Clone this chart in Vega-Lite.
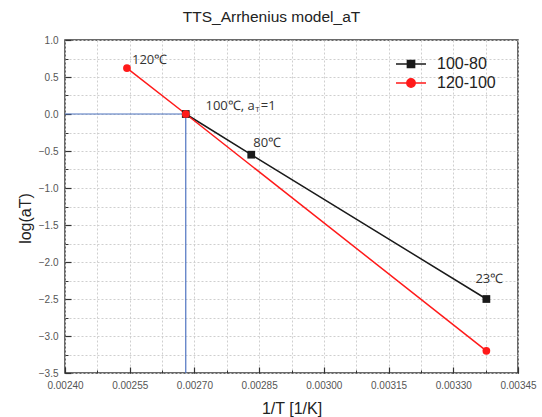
{
  "$schema": "https://vega.github.io/schema/vega-lite/v6.json",
  "width": 453,
  "height": 333,
  "autosize": "none",
  "padding": {"left": 65, "top": 40, "right": 24, "bottom": 44},
  "background": "white",
  "title": {"text": "TTS_Arrhenius model_aT", "font": "Liberation Sans", "fontSize": 15.5, "fontWeight": "normal", "color": "#222222", "anchor": "middle", "dx": -20, "offset": -2, "baseline": "alphabetic"},
  "config": {
    "view": {"stroke": "#3a3a3a", "strokeWidth": 1.5}
  },
  "resolve": {"axis": {"x": "independent", "y": "independent"}},
  "datasets": {
    "series": [
      {"series": "100-80", "invT": 0.0026799, "logaT": 0},
      {"series": "100-80", "invT": 0.0028317, "logaT": -0.55},
      {"series": "100-80", "invT": 0.0033767, "logaT": -2.5},
      {"series": "120-100", "invT": 0.0025436, "logaT": 0.62},
      {"series": "120-100", "invT": 0.0026799, "logaT": 0},
      {"series": "120-100", "invT": 0.0033767, "logaT": -3.2}
    ],
    "guides": [
      {"x": 0.0024, "x2": 0.0026799, "y": 0, "y2": 0},
      {"x": 0.0026799, "x2": 0.0026799, "y": -3.5, "y2": 0}
    ],
    "labels": [
      {"label": "120℃", "invT": 0.0025436, "logaT": 0.62},
      {"label": "100℃, a", "invT": 0.0026799, "logaT": 0},
      {"label": "T", "invT": 0.0026799, "logaT": 0},
      {"label": "=1", "invT": 0.0026799, "logaT": 0},
      {"label": "80℃", "invT": 0.0028317, "logaT": -0.55},
      {"label": "23℃", "invT": 0.0033767, "logaT": -2.5}
    ]
  },
  "layer": [
    {
      "data": {"name": "guides"},
      "mark": {"type": "rule", "color": "#4f74c0", "strokeWidth": 1.2},
      "encoding": {
        "x": {"field": "x", "type": "quantitative",
          "scale": {"domain": [0.0024, 0.00345], "nice": false, "zero": false},
          "axis": {"orient": "bottom", "values": [0.0024, 0.00255, 0.0027, 0.00285, 0.003, 0.00315, 0.0033, 0.00345], "format": ".5f", "grid": false, "domain": false, "ticks": true, "tickSize": -6, "tickColor": "#333333", "tickWidth": 1.2, "labelPadding": 13, "labelFont": "Liberation Sans", "labelFontSize": 10, "labelColor": "#555555", "labelFlush": false, "labelOverlap": false, "title": "1/T [1/K]", "titleFont": "Liberation Sans", "titleFontSize": 16, "titleFontWeight": "normal", "titleColor": "#222222", "titlePadding": 10}},
        "x2": {"field": "x2"},
        "y": {"field": "y", "type": "quantitative",
          "scale": {"domain": [-3.5, 1.0], "nice": false, "zero": false},
          "axis": {"orient": "left", "values": [-3.5, -3, -2.5, -2, -1.5, -1, -0.5, 0, 0.5, 1], "format": ".1f", "grid": false, "domain": false, "ticks": true, "tickSize": -6, "tickColor": "#333333", "tickWidth": 1.2, "labelPadding": 13, "labelFont": "Liberation Sans", "labelFontSize": 10, "labelColor": "#555555", "labelFlush": false, "labelOverlap": false, "title": "log(aT)", "titleFont": "Liberation Sans", "titleFontSize": 16, "titleFontWeight": "normal", "titleColor": "#222222", "titlePadding": 5, "titleY": 178}},
        "y2": {"field": "y2"}
      }
    },
    {
      "data": {"name": "series"},
      "mark": {"type": "line", "strokeWidth": 1.5},
      "encoding": {
        "x": {"field": "invT", "type": "quantitative",
          "axis": {"orient": "bottom", "values": [0.0024, 0.002475, 0.00255, 0.002625, 0.0027, 0.002775, 0.00285, 0.002925, 0.003, 0.003075, 0.00315, 0.003225, 0.0033, 0.003375, 0.00345], "grid": true, "gridColor": "#cfcfcf", "gridDash": [2, 2], "gridWidth": 1, "domain": false, "labels": false, "ticks": true, "tickSize": -3, "tickColor": "#333333", "tickWidth": 1, "title": null}},
        "y": {"field": "logaT", "type": "quantitative",
          "axis": {"orient": "left", "values": [-3.5, -3.25, -3, -2.75, -2.5, -2.25, -2, -1.75, -1.5, -1.25, -1, -0.75, -0.5, -0.25, 0, 0.25, 0.5, 0.75, 1], "grid": true, "gridColor": "#cfcfcf", "gridDash": [2, 2], "gridWidth": 1, "domain": false, "labels": false, "ticks": true, "tickSize": -3, "tickColor": "#333333", "tickWidth": 1, "title": null}},
        "color": {"field": "series", "type": "nominal", "scale": {"domain": ["100-80", "120-100"], "range": ["#1a1a1a", "#ff1a1a"]},
          "legend": {"orient": "none", "legendX": 335, "legendY": 13, "title": null, "symbolSize": 400, "labelOffset": 15, "labelFont": "Liberation Sans", "labelFontSize": 16, "labelColor": "#222222", "rowPadding": 0, "padding": 0,
            "encode": {"symbols": {"update": {
              "shape": {"signal": "datum.value === '100-80' ? 'M-1.5,0H1.5M-0.36,-0.36H0.36V0.36H-0.36Z' : 'M-1.5,0H1.5M0.42,0A0.42,0.42,0,1,1,-0.42,0A0.42,0.42,0,1,1,0.42,0Z'"},
              "stroke": {"signal": "datum.value === '100-80' ? '#1a1a1a' : '#ff1a1a'"},
              "fill": {"signal": "datum.value === '100-80' ? '#1a1a1a' : '#ff1a1a'"},
              "strokeWidth": {"value": 1.5},
              "opacity": {"value": 1}
            }}}}},
        "order": {"field": "invT"}
      }
    },
    {
      "data": {"name": "series"},
      "transform": [{"filter": "datum.series === '100-80'"}],
      "mark": {"type": "point", "filled": true, "shape": "square", "size": 60, "opacity": 1, "color": "#1a1a1a"},
      "encoding": {
        "x": {"field": "invT", "type": "quantitative", "axis": null},
        "y": {"field": "logaT", "type": "quantitative", "axis": null}
      }
    },
    {
      "data": {"name": "series"},
      "transform": [{"filter": "datum.series === '120-100'"}],
      "mark": {"type": "point", "filled": true, "shape": "circle", "size": 60, "opacity": 1, "color": "#ff1a1a"},
      "encoding": {
        "x": {"field": "invT", "type": "quantitative", "axis": null},
        "y": {"field": "logaT", "type": "quantitative", "axis": null}
      }
    },
    {
      "data": {"name": "labels"},
      "transform": [{"filter": "datum.label === '120℃'"}],
      "mark": {"type": "text", "align": "left", "baseline": "middle", "dx": 5, "dy": -8, "font": "Open Sans", "fontSize": 13, "color": "#333333"},
      "encoding": {
        "x": {"field": "invT", "type": "quantitative", "axis": null},
        "y": {"field": "logaT", "type": "quantitative", "axis": null},
        "text": {"field": "label"}
      }
    },
    {
      "data": {"name": "labels"},
      "transform": [{"filter": "datum.label === '100℃, a'"}],
      "mark": {"type": "text", "align": "right", "baseline": "middle", "dx": 69, "dy": -8, "font": "Open Sans", "fontSize": 13, "color": "#333333"},
      "encoding": {
        "x": {"field": "invT", "type": "quantitative", "axis": null},
        "y": {"field": "logaT", "type": "quantitative", "axis": null},
        "text": {"field": "label"}
      }
    },
    {
      "data": {"name": "labels"},
      "transform": [{"filter": "datum.label === 'T'"}],
      "mark": {"type": "text", "align": "left", "baseline": "middle", "dx": 69.5, "dy": -4, "font": "Open Sans", "fontSize": 8, "color": "#333333"},
      "encoding": {
        "x": {"field": "invT", "type": "quantitative", "axis": null},
        "y": {"field": "logaT", "type": "quantitative", "axis": null},
        "text": {"field": "label"}
      }
    },
    {
      "data": {"name": "labels"},
      "transform": [{"filter": "datum.label === '=1'"}],
      "mark": {"type": "text", "align": "left", "baseline": "middle", "dx": 75, "dy": -8, "font": "Open Sans", "fontSize": 13, "color": "#333333"},
      "encoding": {
        "x": {"field": "invT", "type": "quantitative", "axis": null},
        "y": {"field": "logaT", "type": "quantitative", "axis": null},
        "text": {"field": "label"}
      }
    },
    {
      "data": {"name": "labels"},
      "transform": [{"filter": "datum.label === '80℃'"}],
      "mark": {"type": "text", "align": "left", "baseline": "middle", "dx": 2, "dy": -12, "font": "Open Sans", "fontSize": 13, "color": "#333333"},
      "encoding": {
        "x": {"field": "invT", "type": "quantitative", "axis": null},
        "y": {"field": "logaT", "type": "quantitative", "axis": null},
        "text": {"field": "label"}
      }
    },
    {
      "data": {"name": "labels"},
      "transform": [{"filter": "datum.label === '23℃'"}],
      "mark": {"type": "text", "align": "left", "baseline": "middle", "dx": -11, "dy": -20, "font": "Open Sans", "fontSize": 13, "color": "#333333"},
      "encoding": {
        "x": {"field": "invT", "type": "quantitative", "axis": null},
        "y": {"field": "logaT", "type": "quantitative", "axis": null},
        "text": {"field": "label"}
      }
    }
  ]
}
